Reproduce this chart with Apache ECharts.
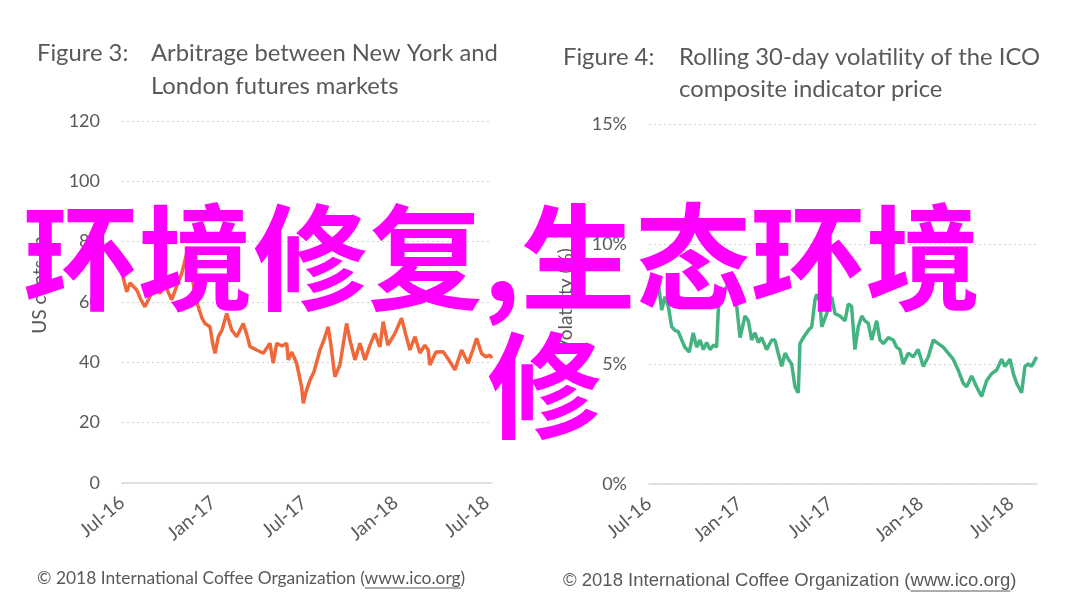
<!DOCTYPE html>
<html>
<head>
<meta charset="utf-8">
<script src="https://cdn.jsdelivr.net/npm/echarts@6/dist/echarts.min.js"></script>
<style>
html,body{margin:0;padding:0;background:#fff;}
#c{width:1080px;height:609px;}
</style>
</head>
<body>
<div id="c"></div>
<script>
// ---- data ----
const tickLabels = ['Jul-16', 'Jan-17', 'Jul-17', 'Jan-18', 'Jul-18'];

// Figure 3: arbitrage NY - London (US cents/lb); x = months since Jul-16
const priceMonths = [0.07,0.31,0.53,0.97,1.25,1.51,1.84,2.06,2.5,2.83,3.27,3.62,3.93,4.26,4.34,4.59,4.87,5.02,5.26,5.46,5.79,5.99,6.12,6.34,6.58,6.89,7.22,7.55,7.98,8.22,8.42,8.86,9.3,9.74,9.95,10.18,10.53,10.84,10.94,11.18,11.49,11.82,11.93,12.11,12.37,12.63,13.03,13.29,13.57,13.75,14.01,14.34,14.78,15.0,15.33,15.66,15.99,16.32,16.64,16.97,17.19,17.5,17.96,18.4,18.68,18.95,19.28,19.61,19.93,20.15,20.26,20.66,21.14,21.51,21.91,22.35,22.78,23.09,23.34,23.66,23.95,24.21,24.34];
const priceValues = [68.3,63.4,66.3,64.0,60.7,58.4,61.8,65.1,62.9,65.6,60.7,65.6,69.5,76.1,78.3,68.9,60.7,58.4,54.7,52.9,51.8,45.7,43.0,48.5,50.7,56.2,50.7,48.5,52.9,49.1,45.2,44.1,43.0,46.3,39.7,46.3,45.4,46.3,40.8,43.4,39.7,31.9,26.4,30.2,34.1,36.8,44.1,47.4,51.8,45.7,35.2,39.1,52.9,47.4,40.8,46.3,40.8,45.7,49.6,45.1,53.5,45.7,49.6,54.6,49.1,44.1,48.5,43.1,45.7,44.1,39.1,43.4,43.5,40.8,37.5,44.1,39.7,44.1,48.0,43.0,41.8,42.4,41.4];

// Figure 4: rolling 30-day volatility (%)
const volMonths = [0.1,0.62,0.84,1.06,1.28,1.5,1.72,1.94,2.17,2.38,2.67,2.93,3.16,3.38,3.6,3.82,4.04,4.3,4.48,4.59,4.7,4.97,5.43,5.81,6.03,6.36,6.58,6.8,7.02,7.24,7.46,7.79,8.13,8.34,8.56,8.79,9.01,9.23,9.45,9.67,9.89,10.0,10.22,10.55,10.78,11.0,11.11,11.32,11.44,11.77,12.1,12.32,12.65,12.98,13.2,13.42,13.64,13.86,14.09,14.3,14.52,14.75,15.08,15.3,15.52,15.85,16.18,16.4,16.62,16.84,17.17,17.5,17.83,18.17,18.5,18.83,19.16,19.49,19.82,20.15,20.48,20.81,21.04,21.37,21.7,22.03,22.36,22.7,23.03,23.36,23.58,23.91,24.13,24.35,24.68,24.9,25.12,25.34,25.68];
const volValues = [7.8,8.36,7.25,7.8,7.4,6.55,6.4,6.35,6.0,5.7,5.5,6.3,5.7,6.0,5.6,5.9,5.6,5.8,5.7,7.25,7.9,8.1,8.4,7.4,6.1,7.0,6.8,6.0,6.3,5.9,6.1,5.6,6.0,6.0,5.45,4.9,5.45,5.2,5.0,4.05,3.8,5.85,6.1,6.4,6.55,7.7,7.9,7.6,6.55,7.1,7.8,7.1,7.0,6.8,7.5,7.4,5.6,6.55,7.0,6.8,6.7,6.0,6.8,6.0,5.85,6.1,6.0,5.7,5.6,5.0,5.45,5.3,5.6,4.9,5.3,6.0,5.85,5.7,5.45,5.2,4.75,4.2,4.05,4.5,4.05,3.65,4.3,4.6,4.75,5.2,4.9,5.2,4.6,4.2,3.8,4.9,5.0,4.9,5.3];

const pricePairs = priceMonths.map((m, i) => [m, priceValues[i]]);
const volPairs = volMonths.map((m, i) => [m, volValues[i]]);

// ---- chart ----
const FONT = 'Lato';
const GREY = '#595959';
const chart = echarts.init(document.getElementById('c'), null, {renderer: 'canvas'});

function xAxisCfg(gridIndex, max) {
  return {
    type: 'value', gridIndex: gridIndex, min: 0, max: max, interval: 6,
    axisLine: {show: true, lineStyle: {color: '#D9D9D9', width: 1.5}},
    axisTick: {show: false},
    splitLine: {show: false},
    axisLabel: {
      rotate: 40, margin: 17, fontFamily: FONT, fontSize: 19, color: GREY,
      showMaxLabel: false,
      formatter: function (v) {
        const k = Math.round(v / 6);
        return Math.abs(v - k * 6) < 1e-6 && tickLabels[k] ? tickLabels[k] : '';
      }
    }
  };
}
function yAxisCfg(gridIndex, max, interval, fmt) {
  return {
    type: 'value', gridIndex: gridIndex, min: 0, max: max, interval: interval,
    axisLine: {show: false}, axisTick: {show: false},
    splitLine: {show: true, lineStyle: {color: '#D0D0D0', type: [2, 3], width: 1}},
    axisLabel: {margin: 22, fontFamily: FONT, fontSize: 18, color: GREY, formatter: fmt}
  };
}

// footer text + underline of the url
const footerText = '\u00A9 2018 International Coffee Organization (www.ico.org)';
const footerPrefix = '\u00A9 2018 International Coffee Organization (';
const urlText = 'www.ico.org';
const LFOOT = '17.4px Lato';
const RFOOT = '18.5px "Liberation Sans"';
const mctx = document.createElement('canvas').getContext('2d');
function measure(font, s) { mctx.font = font; return mctx.measureText(s).width; }
const lPre = measure(LFOOT, footerPrefix), lUrl = measure(LFOOT, urlText);
const rPre = measure(RFOOT, footerPrefix), rUrl = measure(RFOOT, urlText);

const option = {
  backgroundColor: '#ffffff',
  animation: false,
  grid: [
    {left: 122, top: 121, width: 370, height: 362},
    {left: 649, top: 124, width: 388, height: 360}
  ],
  xAxis: [xAxisCfg(0, 24.35), xAxisCfg(1, 25.7)],
  yAxis: [
    yAxisCfg(0, 120, 20, '{value}'),
    yAxisCfg(1, 15, 5, '{value}%')
  ],
  series: [
    {type: 'line', xAxisIndex: 0, yAxisIndex: 0, data: pricePairs, showSymbol: false,
     lineStyle: {color: '#F0683A', width: 3.5}, itemStyle: {color: '#F0683A'}},
    {type: 'line', xAxisIndex: 1, yAxisIndex: 1, data: volPairs, showSymbol: false,
     lineStyle: {color: '#45B381', width: 3.5}, itemStyle: {color: '#45B381'}}
  ],
  graphic: [
    // titles
    {type: 'text', left: 37, top: 41, style: {text: 'Figure 3:', font: '23.8px Lato', fill: GREY}},
    {type: 'text', left: 151, top: 41, style: {text: 'Arbitrage between New York and', font: '23.8px Lato', fill: GREY}},
    {type: 'text', left: 151, top: 74, style: {text: 'London futures markets', font: '23.8px Lato', fill: GREY}},
    {type: 'text', left: 563, top: 45, style: {text: 'Figure 4:', font: '23.8px Lato', fill: GREY}},
    {type: 'text', left: 679, top: 45, style: {text: 'Rolling 30-day volatility of the ICO', font: '23.8px Lato', fill: GREY}},
    {type: 'text', left: 679, top: 77, style: {text: 'composite indicator price', font: '23.8px Lato', fill: GREY}},
    // axis names
    {type: 'text', x: 40, y: 285, rotation: Math.PI / 2,
     style: {text: 'US cents/lb', font: '19px Lato', fill: GREY, align: 'center', verticalAlign: 'middle'}},
    {type: 'text', x: 566, y: 300, rotation: Math.PI / 2,
     style: {text: 'Volatility (%)', font: '19px Lato', fill: GREY, align: 'center', verticalAlign: 'middle'}},
    // footers
    {type: 'text', x: 37, y: 578, style: {text: footerText, font: LFOOT, fill: GREY, verticalAlign: 'middle'}},
    {type: 'line', shape: {x1: 37 + lPre, y1: 588, x2: 37 + lPre + lUrl, y2: 588}, style: {stroke: GREY, lineWidth: 1}},
    {type: 'text', x: 563, y: 581, style: {text: footerText, font: RFOOT, fill: GREY, verticalAlign: 'middle'}},
    {type: 'line', shape: {x1: 563 + rPre, y1: 591, x2: 563 + rPre + rUrl, y2: 591}, style: {stroke: GREY, lineWidth: 1}},
    // overlay
    {type: 'text', x: 23, y: 257, z: 100,
     style: {text: '环境修复,生态环境', font: 'bold 115px "Noto Sans CJK SC"', fill: '#FF00FF', verticalAlign: 'middle'}},
    {type: 'text', x: 487, y: 385, z: 100,
     style: {text: '修', font: 'bold 115px "Noto Sans CJK SC"', fill: '#FF00FF', verticalAlign: 'middle'}}
  ]
};
chart.setOption(option);
</script>
</body>
</html>
